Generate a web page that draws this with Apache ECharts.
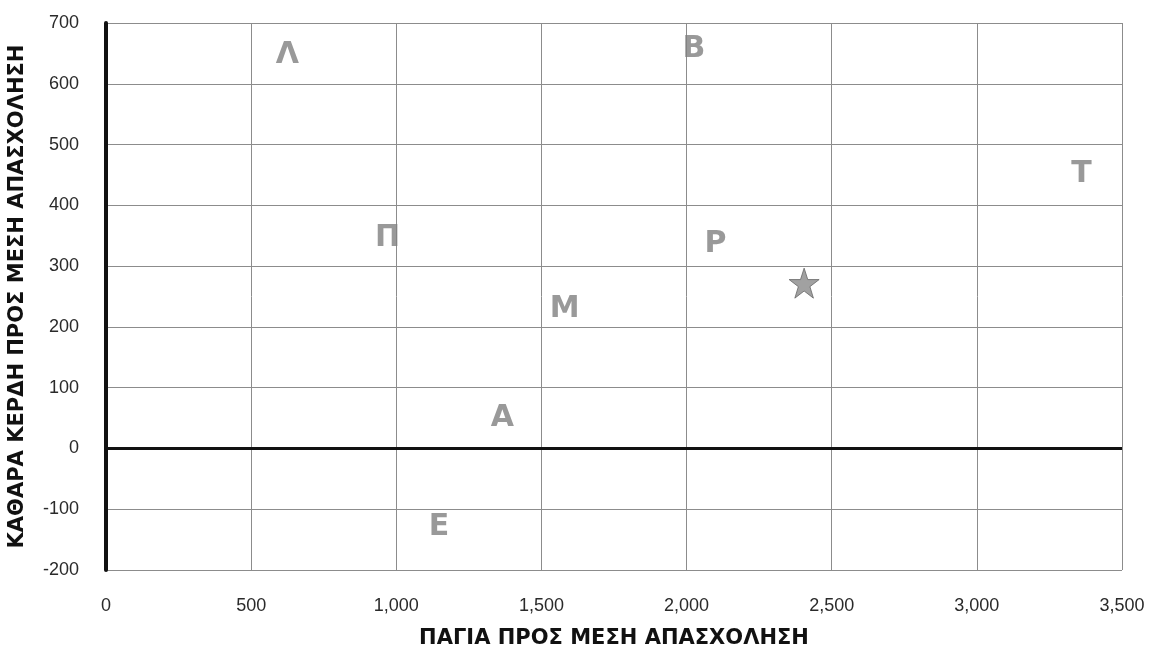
<!DOCTYPE html>
<html>
<head>
<meta charset="utf-8">
<script src="https://cdn.jsdelivr.net/npm/echarts@6/dist/echarts.min.js"></script>
<style>html,body{margin:0;padding:0;background:#fff}#c{width:1149px;height:648px}</style>
</head>
<body>
<div id="c"></div>
<script>
var labels = ['Λ', 'Β', 'Τ', 'Π', 'Ρ', 'Μ', 'Α', 'Ε'];
var xValues = [625, 2025, 3360, 970, 2100, 1580, 1365, 1147];
var yValues = [650, 660, 455, 350, 340, 233, 53, -126];
var starPoint = [2405, 272];
var xTicks = [0, 500, 1000, 1500, 2000, 2500, 3000, 3500];
var yTicks = [-200, -100, 0, 100, 200, 300, 400, 500, 600, 700];
var xTitle = 'ΠΑΓΙΑ ΠΡΟΣ ΜΕΣΗ ΑΠΑΣΧΟΛΗΣΗ';
var yTitle = 'ΚΑΘΑΡΑ ΚΕΡΔΗ ΠΡΟΣ ΜΕΣΗ ΑΠΑΣΧΟΛΗΣΗ';

var letterData = labels.map(function (l, i) { return { name: l, value: [xValues[i], yValues[i]] }; });

var chart = echarts.init(document.getElementById('c'), null, { renderer: 'canvas' });
chart.setOption({
  backgroundColor: '#ffffff',
  animation: false,
  grid: { left: 106, right: 27, top: 23, bottom: 78, containLabel: false, outerBoundsMode: 'none' },
  xAxis: {
    type: 'value',
    min: xTicks[0], max: xTicks[xTicks.length - 1], interval: 500,
    axisLine: { show: false },
    axisTick: { show: false },
    axisLabel: {
      margin: 27, fontSize: 18, color: '#2a2a2a', fontFamily: 'Liberation Sans',
      formatter: function (v) { return v.toLocaleString('en-US'); }
    },
    splitLine: { show: true, lineStyle: { color: '#8c8c8c', width: 1 } },
    name: xTitle, nameLocation: 'middle', nameGap: 58,
    nameTextStyle: { fontFamily: 'DejaVu Sans', fontWeight: 'bold', fontSize: 21, color: '#111' }
  },
  yAxis: {
    type: 'value',
    min: yTicks[0], max: yTicks[yTicks.length - 1], interval: 100,
    axisLine: { show: true, onZero: false, lineStyle: { color: '#111', width: 4 } },
    axisTick: { show: false },
    axisLabel: { margin: 27, fontSize: 18, color: '#2a2a2a', fontFamily: 'Liberation Sans' },
    splitLine: { show: true, lineStyle: { color: '#8c8c8c', width: 1 } },
    name: yTitle, nameLocation: 'middle', nameGap: 78,
    nameTextStyle: { fontFamily: 'DejaVu Sans', fontWeight: 'bold', fontSize: 21, color: '#111' }
  },
  series: [
    {
      type: 'scatter',
      data: letterData,
      symbol: 'circle',
      symbolSize: 1,
      itemStyle: { color: 'rgba(0,0,0,0)' },
      label: {
        show: true, position: 'inside', offset: [0, 2],
        formatter: function (p) { return p.name; },
        fontFamily: 'DejaVu Sans', fontWeight: 'bold', fontSize: 30, color: '#7f7f7f'
      },
      markLine: {
        silent: true, symbol: ['none', 'none'],
        label: { show: false },
        lineStyle: { color: '#111', width: 3, type: 'solid' },
        data: [{ yAxis: 0 }]
      }
    },
    {
      type: 'scatter',
      data: [starPoint],
      symbol: 'path://M50,0 L61.8,35.3 L98.8,35.3 L68.8,57.1 L80.2,92.5 L50,70.6 L19.8,92.5 L31.2,57.1 L1.2,35.3 L38.2,35.3 Z',
      symbolSize: 30,
      itemStyle: { color: '#8a8a8a', borderColor: '#666', borderWidth: 1 }
    }
  ]
});
</script>
</body>
</html>
